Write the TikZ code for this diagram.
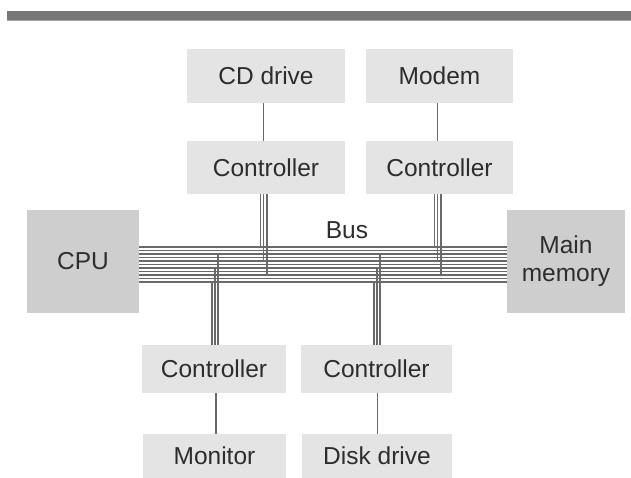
\documentclass[tikz,border=0pt]{standalone}
\usepackage{fontspec}
\setmainfont{Liberation Sans}
\usetikzlibrary{calc}
\definecolor{boxlight}{RGB}{228,228,228}
\definecolor{boxdark}{RGB}{206,206,206}
\definecolor{wirec}{RGB}{105,105,105}
\definecolor{barc}{RGB}{118,118,118}
\definecolor{txt}{RGB}{45,45,45}
\begin{document}
\begin{tikzpicture}[x=1pt,y=-1pt,
  box/.style={fill=boxlight, draw=none, inner sep=0pt, outer sep=0pt, text=txt,
    font=\fontsize{24.5}{28}\selectfont, align=center},
  bigbox/.style={box, fill=boxdark},
  link/.style={draw=wirec, line width=1.1pt},
  buswire/.style={draw=wirec, line width=1.3pt}]
\useasboundingbox (0,0) rectangle (631,478);
\fill[barc] (7,11) rectangle (631,20);
\fill[black!35] (7,20) rectangle (631,21.3);

% boxes
\node[box, minimum width=158pt, minimum height=54pt] (cd) at (266,76) {CD drive};
\node[box, minimum width=147pt, minimum height=54pt] (modem) at (439.5,76) {Modem};
\node[box, minimum width=158pt, minimum height=53pt] (ca) at (266,167.5) {Controller};
\node[box, minimum width=147pt, minimum height=53pt] (cb) at (439.5,167.5) {Controller};
\node[bigbox, minimum width=112pt, minimum height=103pt] (cpu) at (83,261.5) {CPU};
\node[bigbox, minimum width=118pt, minimum height=103pt] (mem) at (566,261.5) {Main\\memory};
\node[box, minimum width=144pt, minimum height=48pt] (cc) at (214,369) {Controller};
\node[box, minimum width=151pt, minimum height=48pt] (cdd) at (376.5,369) {Controller};
\node[box, minimum width=143pt, minimum height=44pt] (mon) at (214.5,456) {Monitor};
\node[box, minimum width=150pt, minimum height=44pt] (disk) at (377,456) {Disk drive};
\node[text=txt, font=\fontsize{24.5}{28}\selectfont] (bus) at (347,230) {Bus};

% device links
\draw[link] ($(cd.south)+(-2.3,0)$) -- ($(ca.north)+(-2.3,0)$);
\draw[link] ($(modem.south)+(-1.8,0)$) -- ($(cb.north)+(-1.8,0)$);
\draw[link] ($(cc.south)+(2,0)$) -- ($(mon.north)+(1.5,0)$);
\draw[link] ($(cdd.south)+(0.8,0)$) -- ($(disk.north)+(0.3,0)$);

% bus lines
\foreach \i in {0,...,10} {
  \pgfmathsetmacro{\yy}{247+3.5*\i}
  \draw[buswire] (cpu.east |- 0,\yy) -- (mem.west |- 0,\yy);
}

% top controller taps (lines 0,4,8)
\foreach \c/\s in {ca/-2.3, cb/-1.8} {
  \foreach \dx/\i in {-3.3/0, 0/4, 3.3/8} {
    \pgfmathsetmacro{\yy}{247+3.5*\i}
    \path ($(\c.south)+(\s+\dx,0)$) coordinate (t);
    \draw[buswire] (t) -- (t |- 0,\yy);
  }
}
% bottom controller taps (lines 2,6,10)
\foreach \c/\s in {cc/1, cdd/0.5} {
  \foreach \dx/\i in {3/2, 0/6, -3/10} {
    \pgfmathsetmacro{\yy}{247+3.5*\i}
    \path ($(\c.north)+(\s+\dx,0)$) coordinate (t);
    \draw[buswire] (t) -- (t |- 0,\yy);
  }
}
\end{tikzpicture}
\end{document}
